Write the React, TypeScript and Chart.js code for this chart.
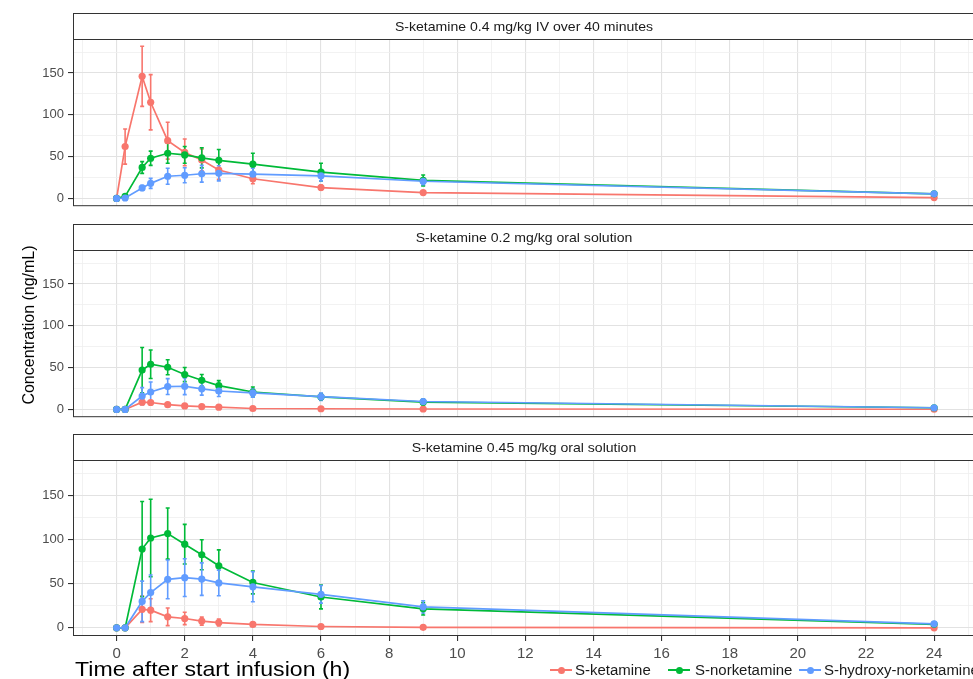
import React, { useEffect, useRef } from "react";
import { Chart, registerables } from "chart.js";

Chart.register(...registerables);

// ---------- data ----------
const TIMES = [0, 0.25, 0.75, 1, 1.5, 2, 2.5, 3, 4, 6, 9, 24];

const SERIES_NAMES = ["S-ketamine", "S-norketamine", "S-hydroxy-norketamine"];
const SERIES_COLORS = ["#F8766D", "#00BA38", "#619CFF"];

const PANEL_TITLES = [
  "S-ketamine 0.4 mg/kg IV over 40 minutes",
  "S-ketamine 0.2 mg/kg oral solution",
  "S-ketamine 0.45 mg/kg oral solution",
];

// Panel 1: IV 0.4 mg/kg
const KET_IV_MEAN = [0, 62, 146, 115, 69, 55, 46, 34, 23.5, 13, 7, 1];
const KET_IV_SD = [0, 21, 36, 33, 22, 16, 13, 11, 6, 3, 1.5, 0.5];
const NOR_IV_MEAN = [0, 2.5, 37, 48, 54, 52, 48.5, 45.5, 41, 31.5, 21.5, 5.5];
const NOR_IV_SD = [0, 1, 7, 8.5, 12, 10, 12, 13, 13, 10.5, 6.5, 2];
const HNK_IV_MEAN = [0, 0.5, 12.5, 18, 26.5, 27.7, 29.5, 30, 29, 27, 20.5, 5.5];
const HNK_IV_SD = [0, 0.3, 3, 6, 9.5, 9, 10, 9, 7, 6, 4, 1.5];

// Panel 2: oral 0.2 mg/kg
const KET_O2_MEAN = [0, 0, 8.7, 8.3, 5.7, 4.2, 3.4, 2.7, 1.1, 0.8, 0.5, 0.2];
const KET_O2_SD = [0, 0, 3, 2, 1, 0.8, 0.6, 0.5, 0.3, 0.2, 0.1, 0.1];
const NOR_O2_MEAN = [0, 0, 47, 54, 50.4, 41.7, 34.8, 28.4, 20.8, 15, 8.7, 2];
const NOR_O2_SD = [0, 0, 27, 17, 9, 8.5, 7, 6, 6, 4, 3, 1];
const HNK_O2_MEAN = [0, 0, 16, 20.8, 27.3, 27.7, 24.6, 22, 19.7, 15.2, 9.5, 2];
const HNK_O2_SD = [0, 0, 10, 12, 9.5, 10, 7.5, 6.5, 5, 4.5, 3, 1];

// Panel 3: oral 0.45 mg/kg
const KET_O45_MEAN = [0, 0, 21, 20, 12.5, 10.6, 7.6, 6, 3.8, 1.5, 0.5, 0];
const KET_O45_SD = [0, 0, 15, 13, 10, 7, 4.5, 4, 2, 1, 0.3, 0.1];
const NOR_O45_MEAN = [0, 0, 89.4, 102, 107, 95, 83, 70.5, 51.5, 35, 21.6, 4];
const NOR_O45_SD = [0, 0, 54, 44, 29, 22.5, 17, 18, 13, 13.5, 7, 2];
const HNK_O45_MEAN = [0, 0, 30, 40, 55, 57, 55.3, 51, 46.6, 38, 23.8, 4.5];
const HNK_O45_SD = [0, 0, 23, 20, 22, 21.5, 18.5, 14.5, 17, 10, 7, 2];

const PANEL_MEANS = [
  [KET_IV_MEAN, NOR_IV_MEAN, HNK_IV_MEAN],
  [KET_O2_MEAN, NOR_O2_MEAN, HNK_O2_MEAN],
  [KET_O45_MEAN, NOR_O45_MEAN, HNK_O45_MEAN],
];
const PANEL_SDS = [
  [KET_IV_SD, NOR_IV_SD, HNK_IV_SD],
  [KET_O2_SD, NOR_O2_SD, HNK_O2_SD],
  [KET_O45_SD, NOR_O45_SD, HNK_O45_SD],
];

const X_LABEL_TICKS = [0, 2, 4, 6, 8, 10, 12, 14, 16, 18, 20, 22, 24];
const X_MINOR_TICKS = [-1, 1, 3, 5, 7, 9, 11, 13, 15, 17, 19, 21, 23, 25];
const Y_LABEL_TICKS = [0, 50, 100, 150];
const Y_MINOR_TICKS = [25, 75, 125, 175];

const X_MIN = -1.28;
const X_MAX = 25.2;
const Y_MIN = -9.3;
const Y_MAX = 190.6;

const FONT = "'Liberation Sans', Arial, sans-serif";

// ---------- layout ----------
const CANVAS_W = 990;
const PLOT_LEFT = 73;
const PLOT_RIGHT = 975;
const STRIP_TOPS = [13, 224, 434];
const STRIP_H = 26;
const PLOT_H = 176;

const panelDecor = {
  id: "panelDecor",
  beforeDraw(chart: any) {
    const { ctx, chartArea } = chart;
    const top = chartArea.top - STRIP_H;
    ctx.save();
    ctx.fillStyle = "#ffffff";
    ctx.fillRect(chartArea.left, top, chartArea.right - chartArea.left, STRIP_H);
    ctx.restore();
  },
  afterDraw(chart: any, _args: any, opts: any) {
    const { ctx, chartArea } = chart;
    const top = chartArea.top - STRIP_H;
    ctx.save();
    ctx.strokeStyle = "#333333";
    ctx.lineWidth = 1;
    ctx.strokeRect(
      chartArea.left + 0.5,
      top + 0.5,
      chartArea.right - chartArea.left - 1,
      STRIP_H
    );
    ctx.strokeRect(
      chartArea.left + 0.5,
      chartArea.top + 0.5,
      chartArea.right - chartArea.left - 1,
      chartArea.bottom - chartArea.top - 1
    );
    ctx.fillStyle = "#1a1a1a";
    ctx.font = `12.8px ${FONT}`;
    ctx.textAlign = "center";
    ctx.textBaseline = "middle";
    const cx = (chartArea.left + chartArea.right) / 2;
    const cy = top + STRIP_H / 2 + 1.5;
    ctx.translate(cx, cy);
    ctx.scale(1.1, 1);
    ctx.fillText(opts.title || "", 0, 0);
    ctx.restore();
  },
};

const errorBars = {
  id: "errorBars",
  beforeDatasetsDraw(chart: any, _args: any, opts: any) {
    const { ctx, chartArea, scales } = chart;
    const sds = opts.sds || [];
    ctx.save();
    ctx.beginPath();
    ctx.rect(chartArea.left, chartArea.top, chartArea.right - chartArea.left, chartArea.bottom - chartArea.top);
    ctx.clip();
    chart.data.datasets.forEach((ds: any, di: number) => {
      const sd = sds[di];
      if (!sd) return;
      ctx.strokeStyle = ds.borderColor;
      ctx.lineWidth = 1.6;
      ds.data.forEach((p: any, i: number) => {
        const s = sd[i];
        if (!s) return;
        const x = scales.x.getPixelForValue(p.x);
        const y1 = scales.y.getPixelForValue(p.y + s);
        const y2 = scales.y.getPixelForValue(p.y - s);
        ctx.beginPath();
        ctx.moveTo(x, y1);
        ctx.lineTo(x, y2);
        ctx.moveTo(x - 2, y1);
        ctx.lineTo(x + 2, y1);
        ctx.moveTo(x - 2, y2);
        ctx.lineTo(x + 2, y2);
        ctx.stroke();
      });
    });
    ctx.restore();
  },
};

function Panel({ index }: { index: number }) {
  const ref = useRef<HTMLCanvasElement | null>(null);
  const isBottom = index === 2;
  const bottomExtra = isBottom ? 36 : 3;
  const canvasTop = STRIP_TOPS[index] - 2;
  const padTop = 2 + STRIP_H;
  const canvasH = padTop + PLOT_H + bottomExtra;

  useEffect(() => {
    if (!ref.current) return;
    const means = PANEL_MEANS[index];
    const datasets = SERIES_NAMES.map((name, si) => ({
      label: name,
      data: TIMES.map((t, i) => ({ x: t, y: means[si][i] })),
      borderColor: SERIES_COLORS[si],
      backgroundColor: SERIES_COLORS[si],
      pointBackgroundColor: SERIES_COLORS[si],
      pointBorderWidth: 0,
      pointRadius: 3.6,
      borderWidth: 1.7,
      tension: 0,
      order: 3 - si,
    }));
    const gridColor = (ctx: any, minor: number[]) =>
      minor.includes(ctx.tick?.value) ? "#efefef" : "#e2e2e2";
    const gridWidth = (ctx: any, minor: number[]) =>
      minor.includes(ctx.tick?.value) ? 0.8 : 1.1;

    const chart = new Chart(ref.current, {
      type: "line",
      data: { datasets },
      plugins: [panelDecor, errorBars],
      options: {
        animation: false,
        responsive: false,
        devicePixelRatio: 1,
        layout: { padding: { top: padTop, left: 0, right: CANVAS_W - PLOT_RIGHT, bottom: 0 } },
        plugins: {
          legend: { display: false },
          tooltip: { enabled: false },
          panelDecor: { title: PANEL_TITLES[index] },
          errorBars: { sds: PANEL_SDS[index] },
        } as any,
        scales: {
          x: {
            type: "linear",
            min: X_MIN,
            max: X_MAX,
            afterBuildTicks: (s: any) => {
              s.ticks = [...X_MINOR_TICKS, ...X_LABEL_TICKS]
                .sort((a, b) => a - b)
                .map((v) => ({ value: v }));
            },
            afterFit: (s: any) => {
              s.height = bottomExtra;
            },
            ticks: {
              display: isBottom,
              autoSkip: false,
              maxRotation: 0,
              minRotation: 0,
              padding: 4,
              color: "#4d4d4d",
              font: { size: 15, family: FONT },
              callback: (v: any) => (X_LABEL_TICKS.includes(v) ? String(v) : ""),
            },
            grid: {
              drawTicks: isBottom,
              tickLength: 5,
              color: (c: any) => gridColor(c, X_MINOR_TICKS),
              lineWidth: (c: any) => gridWidth(c, X_MINOR_TICKS),
              tickColor: (c: any) => (X_MINOR_TICKS.includes(c.tick?.value) ? "rgba(0,0,0,0)" : "#333333"),
              tickWidth: 1.1,
            },
            border: { display: false },
          },
          y: {
            type: "linear",
            min: Y_MIN,
            max: Y_MAX,
            afterBuildTicks: (s: any) => {
              s.ticks = [...Y_LABEL_TICKS, ...Y_MINOR_TICKS]
                .sort((a, b) => a - b)
                .map((v) => ({ value: v }));
            },
            afterFit: (s: any) => {
              s.width = PLOT_LEFT;
            },
            ticks: {
              autoSkip: false,
              padding: 4,
              color: "#4d4d4d",
              font: { size: 13, family: FONT },
              callback: (v: any) => (Y_LABEL_TICKS.includes(v) ? String(v) : ""),
            },
            grid: {
              drawTicks: true,
              tickLength: 5,
              color: (c: any) => gridColor(c, Y_MINOR_TICKS),
              lineWidth: (c: any) => gridWidth(c, Y_MINOR_TICKS),
              tickColor: (c: any) => (Y_MINOR_TICKS.includes(c.tick?.value) ? "rgba(0,0,0,0)" : "#333333"),
              tickWidth: 1.1,
            },
            border: { display: false },
          },
        },
      } as any,
    });
    return () => chart.destroy();
  }, [index]);

  return (
    <canvas
      ref={ref}
      width={CANVAS_W}
      height={canvasH}
      style={{ position: "absolute", left: 0, top: canvasTop, width: CANVAS_W, height: canvasH }}
    />
  );
}

function LegendItem({ keyLeft, textLeft, color, label }: any) {
  return (
    <>
      <div style={{ position: "absolute", left: keyLeft, top: 669, width: 22, height: 2, background: color }} />
      <div
        style={{
          position: "absolute",
          left: keyLeft + 7.5,
          top: 666.5,
          width: 7,
          height: 7,
          borderRadius: "50%",
          background: color,
        }}
      />
      <div
        style={{
          position: "absolute",
          left: textLeft,
          top: 661,
          fontFamily: FONT,
          fontSize: 14,
          lineHeight: "18px",
          color: "#1a1a1a",
          whiteSpace: "nowrap",
          transform: "scaleX(1.07)",
          transformOrigin: "left center",
        }}
      >
        {label}
      </div>
    </>
  );
}

export default function App() {
  return (
    <div
      style={{
        position: "absolute",
        left: 0,
        top: 0,
        width: 973,
        height: 679,
        overflow: "hidden",
        background: "#ffffff",
      }}
    >
      <Panel index={0} />
      <Panel index={1} />
      <Panel index={2} />
      <div
        style={{
          position: "absolute",
          left: 29 - 100,
          top: 325 - 10,
          width: 200,
          height: 20,
          lineHeight: "20px",
          textAlign: "center",
          fontFamily: FONT,
          fontSize: 16,
          color: "#000",
          transform: "rotate(-90deg)",
          whiteSpace: "nowrap",
        }}
      >
        Concentration (ng/mL)
      </div>
      <div
        style={{
          position: "absolute",
          left: 75,
          top: 657,
          fontFamily: FONT,
          fontSize: 21,
          lineHeight: "24px",
          color: "#000",
          whiteSpace: "nowrap",
          transform: "scaleX(1.1)",
          transformOrigin: "left center",
        }}
      >
        Time after start infusion (h)
      </div>
      <LegendItem keyLeft={550} textLeft={575} color={SERIES_COLORS[0]} label={SERIES_NAMES[0]} />
      <LegendItem keyLeft={668} textLeft={695} color={SERIES_COLORS[1]} label={SERIES_NAMES[1]} />
      <LegendItem keyLeft={799} textLeft={824} color={SERIES_COLORS[2]} label={SERIES_NAMES[2]} />
    </div>
  );
}
